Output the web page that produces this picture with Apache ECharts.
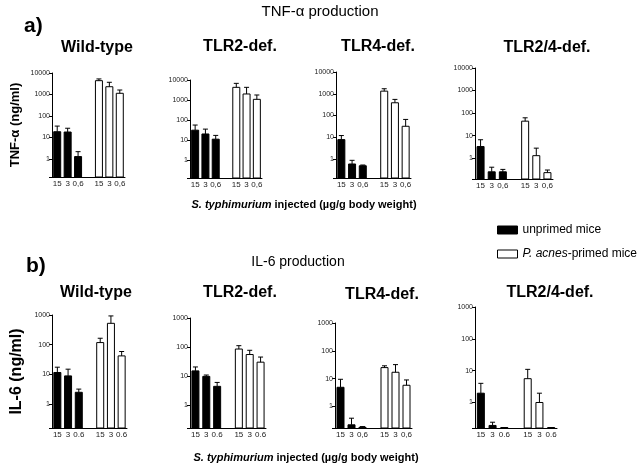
<!DOCTYPE html>
<html>
<head>
<meta charset="utf-8">
<script src="https://cdn.jsdelivr.net/npm/echarts@6/dist/echarts.min.js"></script>
<style>html,body{margin:0;padding:0;background:#fff}#c{width:642px;height:469px}</style>
</head>
<body>
<div id="c"></div>
<script>
// ---- data ----
const panelTitles = ['Wild-type', 'TLR2-def.', 'TLR4-def.', 'TLR2/4-def.'];
const catsTnf = [['15','3','0,6','','15','3','0,6'],['15','3','0,6','','15','3','0,6'],['15','3','0,6','','15','3','0,6'],['15','3','0,6','','15','3','0,6']];
const catsIl6 = [['15','3','0.6','','15','3','0.6'],['15','3','0.6','','15','3','0.6'],['15','3','0,6','','15','3','0,6'],['15','3','0.6','','15','3','0.6']];

const tnfUnprimed    = [[18.6, 18, 1.3], [31, 20, 11], [7.8, 0.59, 0.49], [3.3, 0.25, 0.25]];
const tnfUnprimedErr = [[34, 27, 2.2], [56, 35, 17], [12, 0.87, 0.53], [6.6, 0.4, 0.32]];
const tnfPrimed      = [[4400, 2300, 1140], [4300, 2000, 1080], [1320, 385, 32], [44, 1.3, 0.23]];
const tnfPrimedErr   = [[5300, 3700, 1620], [6800, 4300, 1780], [1700, 550, 66], [62, 2.8, 0.3]];

const il6Unprimed    = [[11.6, 8.9, 2.5], [15, 9.7, 4.4], [4.9, 0.22, 0.18], [1.96, 0.19, 0.16]];
const il6UnprimedErr = [[17.5, 15, 3.2], [20.5, 10.8, 6], [9.5, 0.38, 0.19], [4, 0.24, 0.16]];
const il6Primed      = [[118, 525, 42], [85, 55, 30], [25, 17, 5.8], [5.6, 1.0, 0.16]];
const il6PrimedErr   = [[165, 930, 59], [111, 77, 45], [29, 32, 9], [11, 1.96, 0.16]];

const tnfAxisMin = [0.146, 0.126, 0.134, 0.12];
const tnfAxisMax = 10000;
const il6AxisMin = [0.157, 0.161, 0.169, 0.158];
const il6AxisMax = 1000;

// ---- layout ----
const FONT = 'Liberation Sans, Arial, sans-serif';
const gridsA = [
  {left: 52, top: 73, width: 73, height: 104},
  {left: 190, top: 80, width: 72, height: 98},
  {left: 336, top: 72, width: 75, height: 106},
  {left: 475, top: 68, width: 78, height: 111}
];
const gridsB = [
  {left: 52, top: 315, width: 75, height: 113},
  {left: 190, top: 318, width: 76, height: 110},
  {left: 335, top: 323, width: 77, height: 105},
  {left: 475, top: 307, width: 82, height: 121}
];
const titlePosA = [[97, 48], [240, 47], [378, 47], [547, 48]];
const titlePosB = [[96, 293], [240, 293], [382, 295], [550, 293]];

const NAME_UN = 'unprimed mice';
const NAME_PR = 'P. acnes-primed mice';
const BAR_W = 7;

const grid = [], xAxis = [], yAxis = [], series = [], graphics = [];

function powerLabel(v) {
  const l = Math.log10(v);
  if (v >= 1 && Math.abs(l - Math.round(l)) < 1e-6) return String(Math.round(v));
  return '';
}

function makeBarRender(fill) {
  return function (params, api) {
    const x = api.value(0), v = api.value(1);
    const top = api.coord([x, v]);
    const cs = params.coordSys;
    const bottom = cs.y + cs.height;
    const h = Math.max(bottom - top[1], 0.5);
    return {
      type: 'rect',
      shape: {x: top[0] - BAR_W / 2, y: bottom - h, width: BAR_W, height: h},
      style: {fill: fill, stroke: '#000', lineWidth: 1}
    };
  };
}

function errRender(params, api) {
  const x = api.value(0), m = api.value(1), e = api.value(2);
  const p1 = api.coord([x, m]);
  const p2 = api.coord([x, e]);
  const st = {stroke: '#000', lineWidth: 1};
  return {
    type: 'group',
    children: [
      {type: 'line', shape: {x1: p1[0], y1: p1[1], x2: p2[0], y2: p2[1]}, style: st},
      {type: 'line', shape: {x1: p2[0] - 2.5, y1: p2[1], x2: p2[0] + 2.5, y2: p2[1]}, style: st}
    ]
  };
}

function addPanel(g, cats, un, unErr, pr, prErr, yMin, yMax, yName, nameGap, nameSize) {
  const idx = grid.length;
  grid.push(Object.assign({containLabel: false}, g));
  xAxis.push({
    type: 'category', gridIndex: idx, data: cats,
    axisLine: {lineStyle: {color: '#000', width: 1}},
    axisTick: {show: false},
    axisLabel: {interval: 0, fontSize: 8, color: '#222', margin: 3, fontFamily: FONT}
  });
  const ya = {
    type: 'log', gridIndex: idx, min: yMin, max: yMax, logBase: 10,
    axisLine: {show: true, lineStyle: {color: '#000', width: 1}},
    axisTick: {show: true, length: 3, lineStyle: {color: '#000'}},
    splitLine: {show: false},
    minorTick: {show: false},
    axisLabel: {fontSize: 7, color: '#222', margin: 2, fontFamily: FONT, formatter: powerLabel}
  };
  if (yName) {
    Object.assign(ya, {
      name: yName, nameLocation: 'middle', nameRotate: 90, nameGap: nameGap,
      nameTextStyle: {fontSize: nameSize, fontWeight: 'bold', color: '#000', fontFamily: FONT}
    });
  }
  yAxis.push(ya);
  const unData = [], prData = [], errData = [];
  for (let i = 0; i < 3; i++) {
    unData.push([i, un[i]]);
    prData.push([i + 4, pr[i]]);
    errData.push([i, un[i], unErr[i]]);
    errData.push([i + 4, pr[i], prErr[i]]);
  }
  series.push({
    type: 'custom', name: NAME_UN, xAxisIndex: idx, yAxisIndex: idx, data: unData,
    encode: {x: 0, y: 1}, renderItem: makeBarRender('#000'),
    itemStyle: {color: '#000', borderColor: '#000'}, silent: true, animation: false
  });
  series.push({
    type: 'custom', name: NAME_PR, xAxisIndex: idx, yAxisIndex: idx, data: prData,
    encode: {x: 0, y: 1}, renderItem: makeBarRender('#fff'),
    itemStyle: {color: '#fff', borderColor: '#000', borderWidth: 1}, silent: true, animation: false
  });
  series.push({
    type: 'custom', name: 'err' + idx, xAxisIndex: idx, yAxisIndex: idx, data: errData,
    encode: {x: 0, y: [1, 2]}, renderItem: errRender, z: 5, silent: true, animation: false
  });
}

for (let p = 0; p < 4; p++) {
  addPanel(gridsA[p], catsTnf[p], tnfUnprimed[p], tnfUnprimedErr[p], tnfPrimed[p], tnfPrimedErr[p],
    tnfAxisMin[p], tnfAxisMax, p === 0 ? 'TNF-\u03b1 (ng/ml)' : null, 30, 13);
}
for (let p = 0; p < 4; p++) {
  addPanel(gridsB[p], catsIl6[p], il6Unprimed[p], il6UnprimedErr[p], il6Primed[p], il6PrimedErr[p],
    il6AxisMin[p], il6AxisMax, p === 0 ? 'IL-6 (ng/ml)' : null, 27, 16);
}

function txt(x, y, text, size, weight, align, rich) {
  const style = {
    x: x, y: y, text: text, fill: '#000',
    font: (weight || 'normal') + ' ' + size + 'px ' + FONT,
    fontSize: size, fontWeight: weight || 'normal', fontFamily: FONT,
    align: align || 'center', verticalAlign: 'middle'
  };
  if (rich) style.rich = rich;
  graphics.push({type: 'text', style: style, silent: true});
}

txt(320, 12, 'TNF-\u03b1 production', 15);
txt(298, 262, 'IL-6 production', 14);
txt(24, 26, 'a)', 21, 'bold', 'left');
txt(26, 266, 'b)', 21, 'bold', 'left');
for (let p = 0; p < 4; p++) {
  txt(titlePosA[p][0], titlePosA[p][1], panelTitles[p], 16, 'bold');
  txt(titlePosB[p][0], titlePosB[p][1], panelTitles[p], 16, 'bold');
}
const capRich = {
  i: {fontStyle: 'italic', fontWeight: 'bold', fontSize: 11, fontFamily: FONT, fill: '#000', color: '#000'},
  b: {fontWeight: 'bold', fontSize: 11, fontFamily: FONT, fill: '#000', color: '#000'}
};
txt(304, 205, '{i|S. typhimurium}{b| injected (\u00b5g/g body weight)}', 11, 'bold', 'center', capRich);
txt(306, 458, '{i|S. typhimurium}{b| injected (\u00b5g/g body weight)}', 11, 'bold', 'center', capRich);

const option = {
  animation: false,
  backgroundColor: '#fff',
  textStyle: {fontFamily: FONT},
  grid: grid, xAxis: xAxis, yAxis: yAxis, series: series,
  legend: {
    data: [
      {name: NAME_UN, icon: 'rect', itemStyle: {color: '#000', borderColor: '#000', borderWidth: 1}},
      {name: NAME_PR, icon: 'rect', itemStyle: {color: '#fff', borderColor: '#000', borderWidth: 1}}
    ],
    orient: 'vertical', left: 497, top: 224,
    itemWidth: 20, itemHeight: 8, itemGap: 12, padding: 0,
    selectedMode: false,
    textStyle: {fontSize: 12, color: '#000', fontFamily: FONT, rich: {i: {fontStyle: 'italic', fontSize: 12, color: '#000'}}},
    formatter: function (n) { return n === NAME_PR ? '{i|P. acnes}-primed mice' : n; }
  },
  graphic: graphics
};
const chart = echarts.init(document.getElementById('c'), null, {renderer: 'canvas'});
chart.setOption(option);
</script>
</body>
</html>
